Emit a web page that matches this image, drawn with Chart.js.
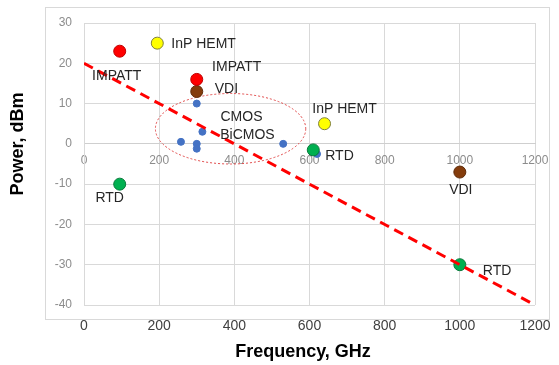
<!DOCTYPE html>
<html>
<head>
<meta charset="utf-8">
<script src="https://cdn.jsdelivr.net/npm/chart.js@4"></script>
<style>
  body { margin: 0; background: #fff; }
</style>
</head>
<body>
<canvas id="powerChart" width="559" height="365"></canvas>
<script>
'use strict';
// output power of THz sources, GHz / dBm
let impattFreq = [95, 300];
let impattPower = [23, 16];
let hemtFreq = [195, 640];
let hemtPower = [25, 5];
let vdiFreq = [300, 1000];
let vdiPower = [13, -7];
let rtdFreq = [95, 610, 1000];
let rtdPower = [-10, -1.5, -30];
let cmosFreq = [258, 300, 300, 300, 315, 530, 620];
let cmosPower = [0.5, 10, 0, -1.2, 3, 0, -2.5];
let trendFreq = [0, 1200];
let trendPower = [20, -40];

let freqTicks = [0, 200, 400, 600, 800, 1000, 1200];
let powerTicks = [-40, -30, -20, -10, 0, 10, 20, 30];

// dotted ring round the silicon points
let cmosCenter = [390, 3.75];
let cmosRadius = [200, 8.75];
let cmosText = ['CMOS', 'BiCMOS'];
let cmosTextAt = [[419, 6.75], [435, 2.25]];

// where each point name goes, px from the marker
let labelSpots = {
  'IMPATT': [[-3, 25, 'center'], [40, -12, 'center']],
  'InP HEMT': [[14, 1, 'left'], [20, -15, 'center']],
  'VDI': [[18, -2, 'left'], [1, 18, 'center']],
  'RTD': [[-10, 14, 'center'], [12, 6, 'left'], [23, 6, 'left']]
};

function points(xs, ys) {
  let out = [];
  for (let i = 0; i < xs.length; i++) {
    out.push({x: xs[i], y: ys[i]});
  }
  return out;
}

let font = '"Liberation Sans", Arial, sans-serif';

let framePlugin = {
  id: 'frame',
  beforeDraw(chart) {
    let ctx = chart.ctx;
    ctx.save();
    ctx.strokeStyle = '#d9d9d9';
    ctx.lineWidth = 1;
    ctx.strokeRect(45.5, 7.5, 504, 312);
    ctx.restore();
  },
  beforeDatasetsDraw(chart) {
    let ctx = chart.ctx;
    let xs = chart.scales.x, ys = chart.scales.y;
    let cx = xs.getPixelForValue(cmosCenter[0]);
    let cy = ys.getPixelForValue(cmosCenter[1]);
    let rx = xs.getPixelForValue(cmosCenter[0] + cmosRadius[0]) - cx;
    let ry = cy - ys.getPixelForValue(cmosCenter[1] + cmosRadius[1]);
    ctx.save();
    ctx.strokeStyle = '#e04848';
    ctx.lineWidth = 1;
    ctx.setLineDash([2, 2]);
    ctx.beginPath();
    ctx.ellipse(cx, cy, rx, ry, 0, 0, Math.PI * 2);
    ctx.stroke();
    ctx.restore();
  },
  afterDatasetsDraw(chart) {
    let ctx = chart.ctx;
    ctx.save();
    ctx.font = '14px ' + font;
    ctx.fillStyle = '#262626';
    ctx.textBaseline = 'middle';
    chart.data.datasets.forEach((ds, i) => {
      let spots = labelSpots[ds.label];
      if (!spots) return;
      chart.getDatasetMeta(i).data.forEach((pt, j) => {
        ctx.textAlign = spots[j][2];
        ctx.fillText(ds.label, pt.x + spots[j][0], pt.y + spots[j][1]);
      });
    });
    ctx.textAlign = 'center';
    for (let i = 0; i < cmosText.length; i++) {
      ctx.fillText(cmosText[i],
        chart.scales.x.getPixelForValue(cmosTextAt[i][0]),
        chart.scales.y.getPixelForValue(cmosTextAt[i][1]));
    }
    // axis titles
    ctx.fillStyle = '#000';
    ctx.font = 'bold 18px ' + font;
    ctx.fillText('Frequency, GHz', 303, 352);
    ctx.translate(18, 144);
    ctx.rotate(-Math.PI / 2);
    ctx.fillText('Power, dBm', 0, 0);
    ctx.restore();
  }
};

function dot(label, xs, ys, fill, edge, r, order) {
  return {
    label: label,
    data: points(xs, ys),
    backgroundColor: fill,
    borderColor: edge,
    borderWidth: 1,
    pointRadius: r,
    pointHoverRadius: r,
    order: order
  };
}

let plain = v => String(v);
// labels may hang past the plot edge, don't shrink the plot for them
let noOverhang = s => { s.paddingLeft = 0; s.paddingRight = 0; };

let ctx = document.getElementById('powerChart').getContext('2d');
let chart = new Chart(ctx, {
  type: 'scatter',
  data: {
    datasets: [
      {
        label: 'trend',
        data: points(trendFreq, trendPower),
        showLine: true,
        borderColor: '#ff0000',
        borderWidth: 3,
        borderDash: [10, 6],
        pointRadius: 0,
        order: 0
      },
      dot('IMPATT', impattFreq, impattPower, '#ff0000', '#c00000', 6, 1),
      dot('InP HEMT', hemtFreq, hemtPower, '#ffff00', '#80803a', 6, 1),
      dot('VDI', vdiFreq, vdiPower, '#843c0c', '#5e2a08', 6, 1),
      dot('RTD', rtdFreq, rtdPower, '#00b050', '#0a7a3c', 6, 1),
      dot('CMOS', cmosFreq, cmosPower, '#4472c4', '#4472c4', 3.5, 3)
    ]
  },
  options: {
    responsive: false,
    animation: false,
    events: [],
    layout: {padding: {top: 23, right: 24, left: 0, bottom: 0}},
    plugins: {legend: {display: false}, tooltip: {enabled: false}},
    scales: {
      x: {
        type: 'linear',
        position: {y: 0},
        min: 0,
        max: 1200,
        afterBuildTicks: s => { s.ticks = freqTicks.map(v => ({value: v})); },
        afterFit: noOverhang,
        grid: {color: '#d9d9d9', drawTicks: false},
        border: {color: '#cfcfcf'},
        ticks: {color: '#8c8c8c', font: {family: font, size: 12}, padding: 10, maxRotation: 0, callback: plain}
      },
      x2: {
        type: 'linear',
        axis: 'x',
        position: 'bottom',
        min: 0,
        max: 1200,
        afterBuildTicks: s => { s.ticks = freqTicks.map(v => ({value: v})); },
        afterFit: s => { s.height = 60; noOverhang(s); },
        grid: {display: false, drawTicks: false},
        border: {display: false},
        ticks: {color: '#404040', font: {family: font, size: 14}, padding: 13, maxRotation: 0, callback: plain}
      },
      y: {
        type: 'linear',
        position: 'left',
        min: -40,
        max: 30,
        afterBuildTicks: s => { s.ticks = powerTicks.map(v => ({value: v})); },
        afterFit: s => { s.width = 84; },
        grid: {color: '#d9d9d9', drawTicks: false},
        border: {color: '#d9d9d9'},
        ticks: {color: '#8c8c8c', font: {family: font, size: 12}, padding: 12, callback: plain}
      }
    }
  },
  plugins: [framePlugin]
});
</script>
</body>
</html>
